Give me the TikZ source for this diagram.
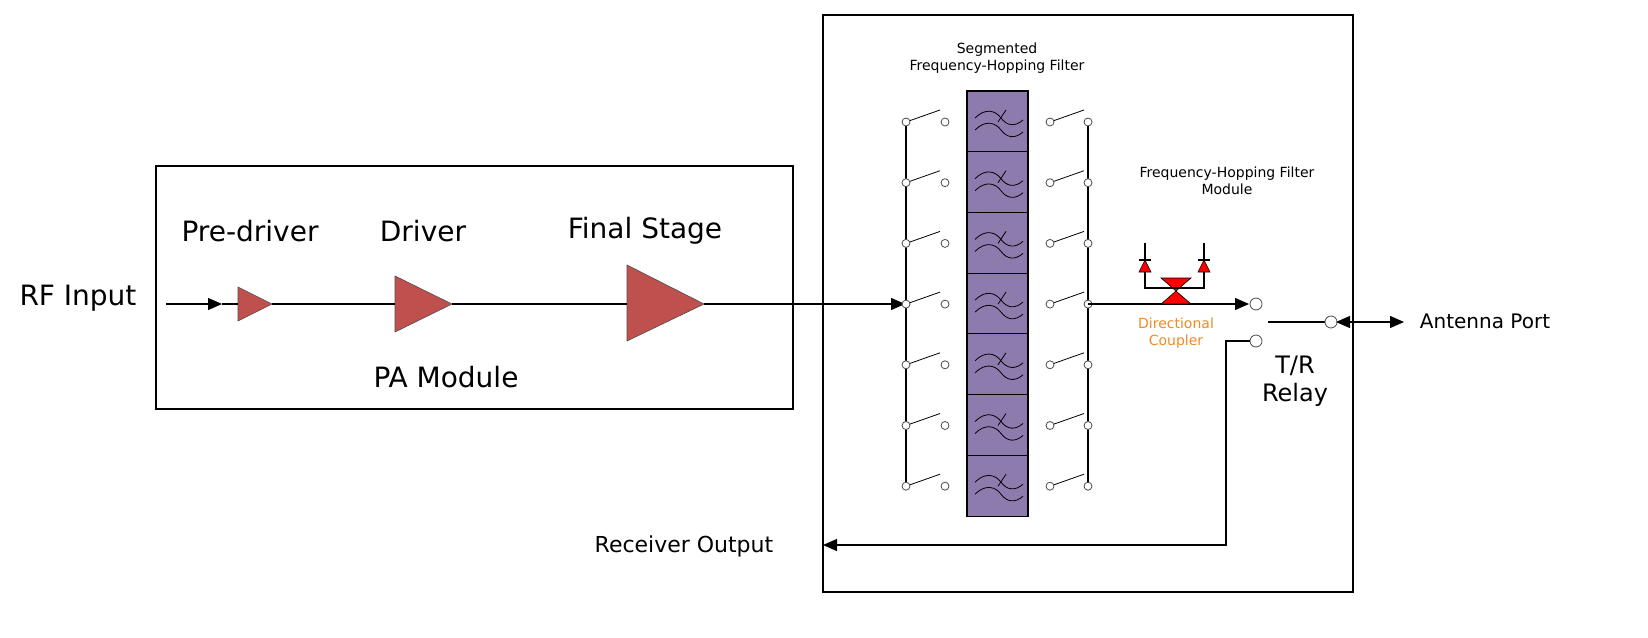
\documentclass[tikz,border=0pt]{standalone}
\usepackage{fontspec}
\setmainfont{DejaVu Sans}
\usetikzlibrary{arrows.meta}
\definecolor{ampred}{HTML}{C0504D}
\definecolor{filtpurple}{HTML}{8E7BAE}
\definecolor{coupleorange}{HTML}{F08A24}
\tikzset{
  amp/.style={draw=black!70, fill=ampred, line width=0.3pt},
  sw/.style={draw=black!70, fill=white, line width=0.4pt},
  wire/.style={line width=0.6pt},
  sig/.style={wire, -{Triangle[length=7pt,width=6pt]}},
  big/.style={font=\fontsize{14}{16}\selectfont},
  small/.style={font=\fontsize{7}{8.5}\selectfont, align=center},
}
\begin{document}
\begin{tikzpicture}[x=0.5pt,y=-0.5pt]
\useasboundingbox (0,0) rectangle (1648,637);

% PA module
\draw[wire] (156,166) rectangle (793,409);
\node[big] (rfin) at (78,298) {RF Input};
\node[big] (pre) at (250,231) {Pre-driver};
\node[big] (drv) at (423,231) {Driver};
\node[big] (fin) at (645,231) {Final Stage};
\node[big] (pam) at (446,377) {PA Module};
\draw[amp] (238,287) -- (272,304) -- (238,321) -- cycle;
\draw[amp] (395,276) -- (452,304) -- (395,332) -- cycle;
\draw[amp] (627,265) -- (704,304) -- (627,341) -- cycle;
\coordinate (in) at (166,304);
\draw[sig] (in) -- (222,304);
\draw[wire] (222,304) -- (238,304);
\draw[wire] (272,304) -- (395,304);
\draw[wire] (452,304) -- (627,304);
\draw[sig] (704,304) -- (905,304);

% filter module
\draw[wire] (823,15) rectangle (1353,592);
\node[small] (segl) at (997,58) {Segmented\\Frequency-Hopping Filter};
\node[small] (fhfm) at (1227,181) {Frequency-Hopping Filter\\Module};
\draw[wire] (906,122) -- (906,486);
\draw[wire] (1088,122) -- (1088,486);
\foreach \i in {0,...,6} {
  \pgfmathsetmacro\yy{122+60.7*\i}
  \draw[line width=0.4pt] (906,\yy) -- (940,\yy-12);
  \draw[sw] (906,\yy) circle (2pt);
  \draw[sw] (945,\yy) circle (2pt);
  \draw[line width=0.4pt] (1050,\yy) -- (1084,\yy-12);
  \draw[sw] (1050,\yy) circle (2pt);
  \draw[sw] (1088,\yy) circle (2pt);
  \draw[wire, fill=filtpurple] (967,\yy-31) rectangle (1028,\yy+30);
  \begin{scope}[shift={(997,\yy)}, line width=0.4pt]
    \draw (-22,-4) .. controls (-12,-14) and (-2,-12) .. (4,-4) .. controls (10,4) and (18,5) .. (26,-2);
    \draw (-22,8) .. controls (-12,-2) and (-2,0) .. (4,8) .. controls (10,16) and (18,17) .. (26,10);
    \draw (1,0) -- (9,-12);
  \end{scope}
}

% directional coupler
\draw[sig] (1088,304) -- (1249,304);
\draw[fill=red, line width=0.3pt] (1161,278) -- (1191,278) -- (1161,304) -- (1191,304) -- cycle;
\draw[wire] (1145,243) -- (1145,288) -- (1204,288) -- (1204,243);
\foreach \dx in {1145,1204} {
  \draw[fill=red, line width=0.3pt] (\dx-6,272) -- (\dx,260) -- (\dx+6,272) -- cycle;
  \draw[wire] (\dx-6,260) -- (\dx+6,260);
}
\node[small, text=coupleorange] (dcl) at (1176,333) {Directional\\Coupler};

% T/R relay
\draw[sw] (1256,304) circle (3pt);
\draw[sw] (1256,341) circle (3pt);
\coordinate (rx) at (823,545);
\draw[sig] (1250,341) -- (1226,341) -- (1226,545) -- (rx);
\draw[wire] (1268,322) -- (1326,322);
\draw[sw] (1331,322) circle (3pt);
\draw[wire, {Triangle[length=7pt,width=6pt]}-{Triangle[length=7pt,width=6pt]}] (1336,322) -- (1404,322);
\node[font=\fontsize{12}{14}\selectfont, align=center] (trr) at (1295,381) {T/R\\Relay};
\node[font=\fontsize{10}{12}\selectfont] (ant) at (1485,321) {Antenna Port};
\node[font=\fontsize{11}{13}\selectfont] (rxo) at (684,546) {Receiver Output};
\end{tikzpicture}
\end{document}
